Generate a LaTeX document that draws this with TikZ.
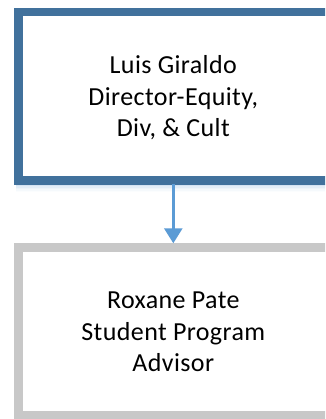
\documentclass[tikz,border=0pt]{standalone}
\usepackage{fontspec}
\setmainfont{Carlito}
\definecolor{topblue}{HTML}{41719C}
\definecolor{arrowblue}{HTML}{5B9BD5}
\definecolor{boxgray}{HTML}{C8C8C8}
\usetikzlibrary{arrows.meta}
\tikzset{
  lbl/.style={align=center, font=\fontsize{26}{31.5}\selectfont\addfontfeature{LetterSpace=1.5}, text=black, inner sep=0pt, anchor=base},
  conn/.style={draw=arrowblue, line width=2.6pt, -{Triangle[width=18pt,length=15pt]}}
}
\begin{document}
\begin{tikzpicture}[x=1pt,y=-1pt]
\useasboundingbox (0,0) rectangle (325,419);
\clip (0,0) rectangle (325,419);
\fill[white] (0,0) rectangle (325,419);
% soft shadow under top box
\foreach \i/\o in {1/0.10,2/0.07,3/0.05,4/0.03,5/0.02}{
  \fill[arrowblue, opacity=\o] (16,184.5) rectangle (332,184.5+\i*1.6);
}
\draw[topblue, line width=8.5pt] (18.25,12.25) rectangle (332,180.5);
\draw[boxgray, line width=8.5pt] (18.25,247.5) rectangle (332,415.5);
\node[lbl] (top) at (173.3,136.7) {Luis Giraldo\\Director-Equity,\\Div, \& Cult};
\node[lbl] (bot) at (173.3,371.7) {Roxane Pate\\Student Program\\Advisor};
\coordinate (a1) at (173.3,184.5);
\coordinate (a2) at (173.3,243.3);
\draw[conn] (a1) -- (a2);
\end{tikzpicture}
\end{document}
